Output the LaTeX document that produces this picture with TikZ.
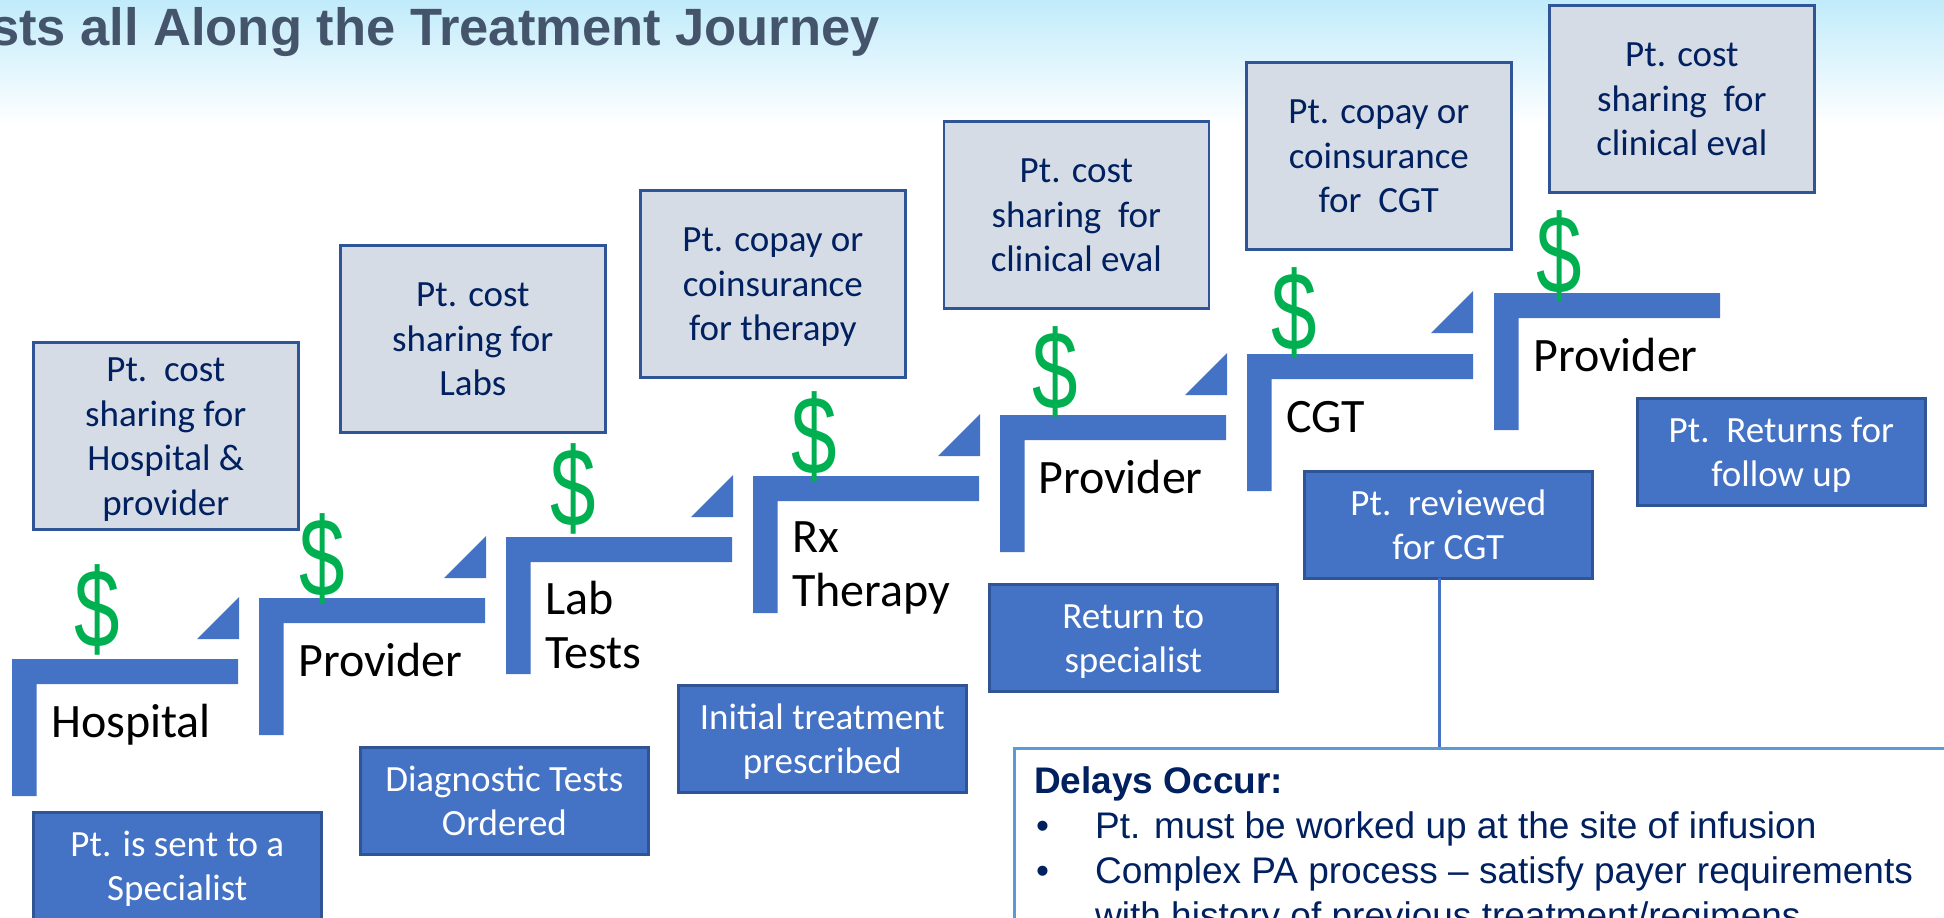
\documentclass[tikz,border=0pt]{standalone}
\usepackage{fontspec}
\setmainfont{Carlito}
\newfontfamily\arialf{Liberation Sans}
\newcommand{\firstln}{\rule{0pt}{37pt}}
\newcommand{\lastln}{\rule[-12pt]{0pt}{12pt}}
\definecolor{navy}{HTML}{002060}
\definecolor{graybox}{HTML}{D6DCE5}
\definecolor{boxedge}{HTML}{2F5597}
\definecolor{stepblue}{HTML}{4472C4}
\definecolor{delayedge}{HTML}{5B9BD5}
\definecolor{titlecol}{HTML}{44546A}
\definecolor{skytop}{HTML}{C1EBFB}
\definecolor{moneygreen}{HTML}{00B050}
\tikzset{
  x=1pt,y=-1pt,
  costbox/.style={draw=boxedge,line width=2.6pt,fill=graybox,text=navy,anchor=north west,inner sep=0pt,minimum width=265pt,minimum height=187pt,align=center,font=\fontsize{37}{44.5}\selectfont},
  infobox/.style={draw=boxedge,line width=2.6pt,fill=stepblue,text=white,anchor=north west,inner sep=0pt,minimum width=288pt,minimum height=107pt,align=center,font=\fontsize{37}{44.5}\selectfont},
  stepfill/.style={fill=stepblue},
  steplabel/.style={anchor=base west,inner sep=0pt,align=left,font=\fontsize{48}{54}\selectfont},
  money/.style={text=moneygreen,inner sep=0pt,anchor=center,xscale=0.73,font=\arialf\fontsize{112}{112}\selectfont},
  delayline/.style={draw=delayedge,line width=3pt},
  delaytext/.style={anchor=base west,inner sep=0pt,text=navy,font=\arialf\fontsize{37}{45}\selectfont}
}
\begin{document}
\begin{tikzpicture}
\useasboundingbox (0,0) rectangle (1944,918);
\shade[top color=skytop,bottom color=white] (0,0) rectangle (1944,125);
\node[anchor=base east,inner sep=0pt,text=titlecol,font=\arialf\bfseries\fontsize{52.5}{60}\selectfont] (title) at (880,45) {sts all Along the Treatment Journey};

% stair steps
\foreach \x/\y in {12/659,259/598,506/537,753/476,1000/415,1247/354,1494/293}{
  \fill[stepfill] (\x,\y) -- (\x+226,\y) -- (\x+226,\y+25) -- (\x+24.5,\y+25) -- (\x+24.5,\y+137) -- (\x,\y+137) -- cycle;
}
% triangles
\foreach \x/\y in {239/639,486/578,733/517,980/456,1227/395,1473/333}{
  \fill[stepfill] (\x,\y) -- (\x,\y-42) -- (\x-42,\y) -- cycle;
}

% cost boxes
\node[costbox] (c1) at (32,341) {\firstln Pt.\ \ cost\\sharing for\\Hospital \&\\provider\lastln};
\node[costbox] (c2) at (339,244) {\firstln Pt. cost\\sharing for\\Labs\lastln};
\node[costbox] (c3) at (639,189) {\firstln Pt. copay or\\coinsurance\\for therapy\lastln};
\node[costbox] (c4) at (942.5,120) {\firstln Pt. cost\\sharing\ \ for\\clinical eval\lastln};
\node[costbox] (c5) at (1245,61) {\firstln Pt. copay or\\coinsurance\\for\ \ CGT\lastln};
\node[costbox] (c6) at (1548,4) {\firstln Pt. cost\\sharing\ \ for\\clinical eval\lastln};

% dollars
\node[money] (d1) at (97,610) {\$};
\node[money] (d2) at (322,559) {\$};
\node[money] (d3) at (573,489) {\$};
\node[money] (d4) at (814,437) {\$};
\node[money] (d5) at (1055,372) {\$};
\node[money] (d6) at (1294,313) {\$};
\node[money] (d7) at (1559,256) {\$};

% step labels
\node[steplabel] (l1) at (51,737) {Hospital};
\node[steplabel] (l2) at (298,676) {Provider};
\node[steplabel] (l3) at (545,668) {Lab\\Tests};
\node[steplabel] (l4) at (792,606) {Rx\\Therapy};
\node[steplabel] (l5) at (1038,493) {Provider};
\node[steplabel] (l6) at (1286,432) {CGT};
\node[steplabel] (l7) at (1533,371) {Provider};

% info boxes
\node[infobox] (b1) at (32,811) {\firstln Pt. is sent to a\\Specialist\lastln};
\node[infobox] (b2) at (359,746) {\firstln Diagnostic Tests\\Ordered\lastln};
\node[infobox] (b3) at (677,684) {\firstln Initial treatment\\prescribed\lastln};
\node[infobox] (b4) at (988,583) {\firstln Return to\\specialist\lastln};
\node[infobox] (b5) at (1303,470) {\firstln Pt.\ \ reviewed\\for CGT\lastln};
\node[infobox] (b6) at (1636,397) {\firstln Pt.\ \ Returns for\\follow up\lastln};

% delays box
\node[delayline,draw,fill=white,anchor=north west,inner sep=0pt,minimum width=1000pt,minimum height=260pt] (delays) at (1013,746.5) {};
\coordinate (tap) at (1439,578);
\draw[draw=stepblue,line width=3pt] (tap) -- (tap |- delays.north);
\node[delaytext,font=\arialf\bfseries\fontsize{37}{45}\selectfont] (t0) at (1034,793) {Delays Occur:};
\node[delaytext] (b1m) at (1036,838) {•};
\node[delaytext] (t1) at (1095,838) {Pt. must be worked up at the site of infusion};
\node[delaytext] (b2m) at (1036,883) {•};
\node[delaytext] (t2) at (1095,883) {Complex PA process – satisfy payer requirements};
\node[delaytext] (t3) at (1095,928) {with history of previous treatment/regimens};
\end{tikzpicture}
\end{document}
